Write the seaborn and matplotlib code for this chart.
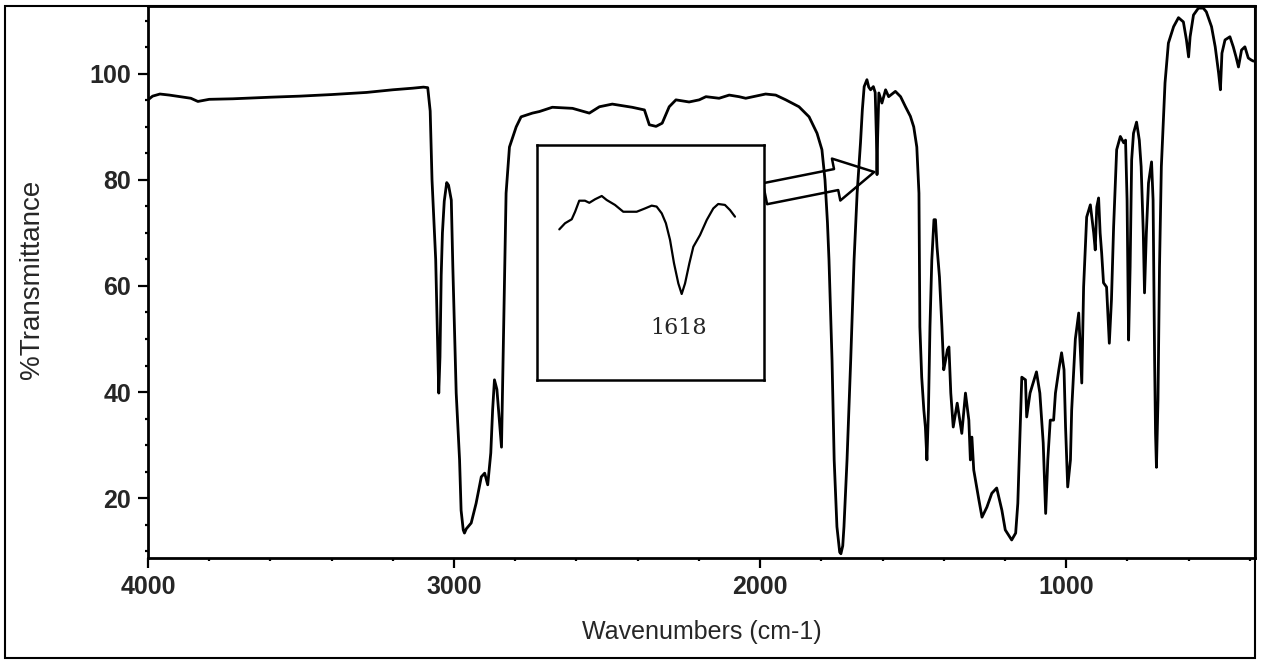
import matplotlib
matplotlib.use("Agg")
import matplotlib.pyplot as plt
from matplotlib.patches import Rectangle
from matplotlib.ticker import MultipleLocator
import pandas as pd
import seaborn as sns

sns.set_theme(style="ticks")
plt.rcParams['font.family'] = ['Liberation Sans', 'DejaVu Sans']

# IR spectrum
wavenumbers = [
    4000, 3985, 3961, 3930, 3896, 3860, 3837, 3800, 3723, 3600, 3504, 3400,
    3286, 3200, 3135, 3100, 3086, 3078, 3072, 3067, 3060, 3056, 3053, 3050,
    3046, 3042, 3038, 3032, 3024, 3018, 3009, 3004, 2998, 2993, 2982, 2977,
    2970, 2966, 2960, 2944, 2928, 2911, 2900, 2890, 2880, 2874, 2868, 2860,
    2852, 2845, 2841, 2836, 2830, 2819, 2797, 2781, 2744, 2721, 2679, 2613,
    2558, 2525, 2483, 2418, 2378, 2362, 2340, 2320, 2297, 2275, 2232, 2199,
    2177, 2134, 2101, 2069, 2047, 1982, 1949, 1916, 1873, 1840, 1814, 1798,
    1788, 1780, 1775, 1765, 1758, 1749, 1740, 1736, 1730, 1726, 1716, 1704,
    1693, 1683, 1672, 1666, 1660, 1651, 1645, 1639, 1630, 1624, 1620, 1618,
    1616, 1612, 1602, 1590, 1580, 1558, 1541, 1525, 1509, 1498, 1488, 1481,
    1478, 1472, 1465, 1460, 1455, 1450, 1445, 1439, 1432, 1427, 1422, 1414,
    1406, 1400, 1394, 1388, 1383, 1377, 1369, 1356, 1341, 1329, 1318, 1313,
    1308, 1302, 1285, 1275, 1259, 1243, 1227, 1210, 1199, 1178, 1165, 1158,
    1150, 1145, 1133, 1129, 1118, 1097, 1086, 1075, 1067, 1060, 1052, 1041,
    1035, 1024, 1015, 1007, 1002, 995, 986, 982, 970, 959, 949, 943,
    933, 921, 910, 905, 900, 894, 889, 884, 878, 868, 859, 852,
    845, 835, 823, 812, 806, 801, 796, 791, 786, 780, 770, 761,
    755, 748, 744, 738, 731, 721, 716, 711, 708, 705, 700, 695,
    689, 677, 666, 649, 633, 617, 607, 600, 595, 584, 568, 552,
    542, 525, 513, 502, 496, 491, 481, 465, 454, 445, 437, 427,
    416, 405, 395, 388,
]
transmittance = [
    95.1, 95.8, 96.2, 96.0, 95.7, 95.4, 94.8, 95.2, 95.3, 95.6, 95.8, 96.1,
    96.5, 97.0, 97.3, 97.5, 97.4, 93.0, 80.0, 73.8, 65.0, 55.0, 47.4, 39.8,
    46.6, 62.0, 70.0, 76.0, 79.5, 79.0, 76.2, 63.6, 50.4, 39.8, 27.2, 17.7,
    14.0, 13.4, 14.2, 15.3, 19.0, 24.0, 24.7, 22.5, 28.5, 36.6, 42.3, 40.5,
    34.7, 29.6, 42.8, 58.7, 77.5, 86.2, 90.0, 91.9, 92.6, 92.9, 93.7, 93.5,
    92.6, 93.8, 94.3, 93.7, 93.2, 90.4, 90.1, 90.7, 93.8, 95.1, 94.7, 95.1,
    95.7, 95.4, 96.0, 95.7, 95.4, 96.2, 96.0, 95.1, 93.8, 91.9, 88.8, 85.7,
    80.0, 72.0, 65.0, 46.0, 27.2, 14.6, 9.8, 9.5, 11.0, 14.6, 27.2, 46.0,
    64.9, 77.5, 87.0, 93.2, 97.6, 98.9, 97.5, 97.0, 97.6, 96.5, 88.0, 81.0,
    88.0, 96.4, 94.5, 97.0, 95.7, 96.7, 95.7, 93.8, 92.0, 90.0, 86.2, 77.5,
    52.3, 42.8, 36.6, 33.4, 27.2, 36.6, 52.3, 64.9, 72.5, 72.5, 67.4, 61.7,
    52.3, 44.2, 46.0, 48.0, 48.5, 39.8, 33.4, 37.9, 32.2, 39.8, 34.7, 27.2,
    31.5, 25.3, 19.6, 16.4, 18.3, 20.9, 21.9, 17.7, 14.0, 12.1, 13.4, 19.0,
    33.4, 42.8, 42.3, 35.3, 39.8, 43.8, 39.8, 30.4, 17.1, 27.2, 34.7, 34.7,
    39.8, 44.2, 47.4, 44.2, 33.4, 22.1, 27.2, 36.6, 50.0, 54.9, 41.7, 59.8,
    73.0, 75.3, 70.0, 66.8, 74.9, 76.6, 70.0, 66.2, 60.6, 59.8, 49.2, 57.4,
    71.1, 85.7, 88.2, 87.0, 87.5, 76.2, 49.8, 63.6, 83.8, 88.8, 90.9, 87.5,
    82.5, 70.0, 58.7, 70.0, 79.4, 83.4, 76.2, 46.0, 32.2, 25.8, 38.5, 63.6,
    82.5, 98.3, 105.8, 108.9, 110.6, 109.8, 106.4, 103.2, 107.0, 111.1, 112.4, 112.4,
    111.7, 108.9, 105.1, 100.2, 97.0, 103.9, 106.4, 107.0, 105.1, 103.2, 101.3, 104.5,
    105.1, 103.0, 102.6, 102.4,
]

# zoomed view of the 1618 band shown in the box
inset_wn = [
    1680.0, 1677.1, 1673.7, 1672.0, 1669.9, 1667.0, 1664.8, 1661.9, 1658.5,
    1656.0, 1651.8, 1647.6, 1640.8, 1636.6, 1633.2, 1630.7, 1628.1, 1626.0,
    1623.9, 1621.9, 1619.7, 1618.0, 1616.3, 1614.1, 1612.1, 1608.7, 1605.3,
    1602.0, 1599.5, 1596.1, 1593.5, 1591.0,
]
inset_t = [
    64.1, 66.7, 68.4, 71.6, 76.3, 76.3, 75.4, 76.9, 78.3,
    76.6, 74.5, 71.6, 71.6, 73.0, 74.2, 73.8, 70.9, 66.7,
    59.6, 49.7, 41.1, 36.6, 41.1, 49.7, 56.7, 61.7, 68.1,
    73.0, 74.9, 74.5, 72.3, 69.5,
]
peak_label = "1618"

W, H = 1262, 662
fig = plt.figure(figsize=(W / 100, H / 100), dpi=100)
ax = fig.add_axes([148 / W, 1 - 558 / H, (1255 - 148) / W, (558 - 6) / H])

df = pd.DataFrame({'wn': wavenumbers, 't': transmittance})
sns.lineplot(data=df, x='wn', y='t', ax=ax, color='black', lw=2.0, estimator=None)

ax.set_xlim(4000, 383)
ax.set_ylim(8.7, 112.8)
ax.set_xticks([4000, 3000, 2000, 1000])
ax.set_yticks([20, 40, 60, 80, 100])
ax.xaxis.set_minor_locator(MultipleLocator(200))
ax.yaxis.set_minor_locator(MultipleLocator(5))
ax.tick_params(which='major', length=7, width=1.6, labelsize=18, pad=5, color='black')
ax.tick_params(which='minor', length=2.5, width=1.6, color='black')
for lab in ax.get_xticklabels() + ax.get_yticklabels():
    lab.set_fontweight('bold')

ax.set_xlabel("Wavenumbers (cm-1)", fontsize=18)
ax.set_ylabel("%Transmittance", fontsize=20)
ax.xaxis.set_label_coords(0.5, -0.113)
ax.yaxis.set_label_coords(-0.093, 0.505)
for s in ax.spines.values():
    s.set_linewidth(2.0)
    s.set_color('black')

# inset box
ins = fig.add_axes([537 / W, 1 - 380 / H, (764 - 537) / W, (380 - 145) / H])
sns.lineplot(x=inset_wn, y=inset_t, ax=ins, color='black', lw=1.6, estimator=None)
ins.set_xlim(1691.3, 1576.3)
ins.set_ylim(0, 100)
ins.set_xticks([])
ins.set_yticks([])
ins.set_xlabel('')
ins.set_ylabel('')
for s in ins.spines.values():
    s.set_linewidth(1.8)
    s.set_color('black')
ins.text(1619.4, 22.3, peak_label, ha='center', va='center', fontsize=16,
         family=['DejaVu Serif'])

# block arrow from the box to the band
ax.annotate('', xy=(1627, 81.5), xytext=(1984, 77.4),
            arrowprops=dict(arrowstyle="simple,head_length=2.0,head_width=2.2,tail_width=1.1",
                            mutation_scale=14, fc='none', ec='black', lw=1.8,
                            shrinkA=0, shrinkB=0))

# scanned page frame
fig.patches.append(Rectangle((5 / W, 1 - 658 / H), 1250 / W, 652 / H,
                             transform=fig.transFigure, fill=False,
                             ec='black', lw=1.5))

fig.savefig("out.png", dpi=100)
